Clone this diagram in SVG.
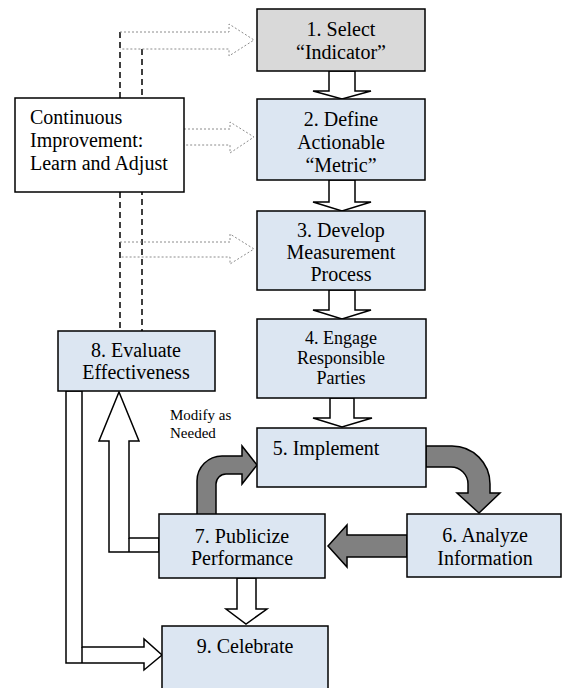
<svg xmlns="http://www.w3.org/2000/svg" width="563" height="688" viewBox="0 0 563 688">
<style>
.box{fill:#DCE6F2;stroke:#000;stroke-width:1.5}
.gbox{fill:#D9D9D9;stroke:#000;stroke-width:1.5}
.wbox{fill:#fff;stroke:#000;stroke-width:1.5}
text{font-family:"Liberation Serif","Times New Roman","DejaVu Serif",serif;fill:#000}
.t{font-size:20px;text-anchor:middle}
.ts{font-size:18px;text-anchor:middle}
.tl{font-size:20px}
.tm{font-size:15px}
.wa{fill:#fff;stroke:#000;stroke-width:1.5;stroke-linejoin:miter}
.ga{fill:#808080;stroke:#000;stroke-width:1.5}
.da{fill:none;stroke:#8c8c8c;stroke-width:1;stroke-dasharray:2 2}
.dv{fill:none;stroke:#000;stroke-width:1.5;stroke-dasharray:6 4}
.ln{fill:none;stroke:#000;stroke-width:1.5}
</style>
<g id="connectors">
  <line class="dv" x1="120" y1="32" x2="120" y2="331"/>
  <line class="dv" x1="142" y1="49" x2="142" y2="331"/>
  <polyline class="da" points="120,32 229,32 229,24 254,40 229,56 229,49 120,49"/>
  <polyline class="da" points="184,129 230,129 230,122 254,137 230,153 230,145 184,145"/>
  <polyline class="da" points="120,242 230,242 230,234 254,249 230,264 230,257 120,257"/>
  <polygon class="wa" points="329,71 355,71 355,91 371,91 342,99 313,91 329,91"/>
  <polygon class="wa" points="329,180 355,180 355,202 371,202 342,211 313,202 329,202"/>
  <polygon class="wa" points="329,290 355,290 355,310 371,310 342,319 313,310 329,310"/>
  <polygon class="wa" points="330,398 354,398 354,418 372,418 342,427 313,418 330,418"/>
  <polygon class="wa" points="237,578 256,578 256,609 267,609 246,624 226,609 237,609"/>
  <polygon class="wa" points="119,392 139,441 129,441 129,538 159,538 159,552 109,552 109,441 99,441"/>
  <line class="ln" x1="129" y1="538" x2="129" y2="552"/>
  <polygon class="wa" points="66,391 82,391 82,647 144,647 144,639 162,655 144,670 144,663 66,663"/>
  <line class="ln" x1="82" y1="647" x2="82" y2="663"/>
  <path class="ga" d="M197,515 L197,481 A25,25 0 0 1 222,456 L242,456 L242,446 L257,465 L242,484 L242,474 L226,474 A10,10 0 0 0 216,484 L216,515 Z"/>
  <path class="ga" d="M426,446 L452,446 A38,38 0 0 1 490,484 L490,493 L500,493 L479,513 L457,493 L468,493 L468,484 A17,17 0 0 0 451,467 L426,467 Z"/>
  <polygon class="ga" points="407,535 347,535 347,525 328,546 347,567 347,557 407,557"/>
</g>
<g id="ci">
  <rect class="wbox" x="15" y="98" width="169" height="94"/>
  <text class="tl" x="30" y="124">Continuous</text>
  <text class="tl" x="30" y="147">Improvement:</text>
  <text class="tl" x="30" y="170">Learn and Adjust</text>
</g>
<g id="n1">
  <rect class="gbox" x="257" y="9" width="168" height="62"/>
  <text class="t" x="341" y="36">1. Select</text>
  <text class="t" x="341" y="59">“Indicator”</text>
</g>
<g id="n2">
  <rect class="box" x="257" y="99" width="168" height="81"/>
  <text class="t" x="341" y="126">2. Define</text>
  <text class="t" x="341" y="149">Actionable</text>
  <text class="t" x="341" y="172">“Metric”</text>
</g>
<g id="n3">
  <rect class="box" x="257" y="211" width="168" height="79"/>
  <text class="t" x="341" y="237">3. Develop</text>
  <text class="t" x="341" y="259">Measurement</text>
  <text class="t" x="341" y="281">Process</text>
</g>
<g id="n4">
  <rect class="box" x="257" y="319" width="169" height="79"/>
  <text class="ts" x="341" y="344">4. Engage</text>
  <text class="ts" x="341" y="364">Responsible</text>
  <text class="ts" x="341" y="384">Parties</text>
</g>
<g id="n5">
  <rect class="box" x="257" y="428" width="169" height="59"/>
  <text class="t" x="326" y="455">5. Implement</text>
</g>
<g id="n6">
  <rect class="box" x="407" y="514" width="154" height="63"/>
  <text class="t" x="485" y="542">6. Analyze</text>
  <text class="t" x="485" y="565">Information</text>
</g>
<g id="n7">
  <rect class="box" x="159" y="514" width="166" height="64"/>
  <text class="t" x="242" y="543">7. Publicize</text>
  <text class="t" x="242" y="565">Performance</text>
</g>
<g id="n8">
  <rect class="box" x="58" y="331" width="157" height="60"/>
  <text class="t" x="136" y="357">8. Evaluate</text>
  <text class="t" x="136" y="379">Effectiveness</text>
</g>
<g id="n9">
  <rect class="box" x="162" y="626" width="166" height="70"/>
  <text class="t" x="245" y="653">9. Celebrate</text>
</g>
<g id="note">
  <text class="tm" x="170" y="420">Modify as</text>
  <text class="tm" x="170" y="438">Needed</text>
</g>
</svg>
